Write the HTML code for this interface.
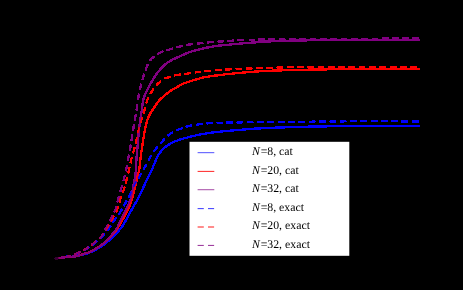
<!DOCTYPE html>
<html><head><meta charset="utf-8"><title>plot</title>
<style>
html,body{margin:0;padding:0;background:#000;}
body{width:463px;height:290px;overflow:hidden;}
svg{display:block;}
.t{font-family:"Liberation Serif",serif;font-size:11.8px;fill:#000;text-rendering:geometricPrecision;}
</style></head><body>
<svg width="463" height="290" viewBox="0 0 463 290">
<rect width="463" height="290" fill="#000"/>
<defs><filter id="th" x="0" y="0" width="463" height="290" filterUnits="userSpaceOnUse" color-interpolation-filters="sRGB"><feComponentTransfer><feFuncA type="discrete" tableValues="0 1 1 1 1 1 1 1 1 1 1 1 1 1 1 1"/></feComponentTransfer></filter></defs>
<g filter="url(#th)">
<path d="M55.0,258.7 L56.5,258.4 L57.9,258.2 L59.4,257.9 L60.9,257.7 L62.4,257.5 L63.9,257.4 L65.4,257.3 L66.9,257.2 L68.4,257.0 L69.9,256.9 L71.4,256.8 L72.9,256.6 L74.4,256.5 L75.8,256.3 L77.3,256.0 L78.8,255.6 L80.2,255.3 L81.7,254.9 L83.1,254.5 L84.6,254.1 L86.0,253.7 L87.5,253.3 L88.9,252.8 L90.3,252.3 L91.7,251.7 L93.0,251.0 L94.3,250.3 L95.7,249.6 L97.0,248.9 L98.3,248.2 L99.6,247.4 L100.8,246.6 L102.1,245.8 L103.4,245.0 L104.6,244.1 L105.8,243.2 L107.0,242.3 L108.1,241.3 L109.3,240.3 L110.4,239.3 L111.5,238.3 L112.6,237.3 L113.6,236.3 L114.7,235.2 L115.8,234.1 L116.8,233.0 L117.8,231.9 L118.8,230.8 L119.7,229.6 L120.6,228.4 L121.5,227.2 L122.4,226.0 L123.2,224.7 L124.0,223.5 L124.7,222.2 L125.5,220.9 L126.3,219.6 L127.0,218.3 L127.7,217.0 L128.4,215.6 L129.1,214.3 L129.8,213.0 L130.6,211.7 L131.3,210.4 L132.1,209.1 L132.8,207.8 L133.6,206.5 L134.3,205.2 L135.1,203.9 L135.8,202.6 L136.6,201.3 L137.3,200.0 L138.0,198.6 L138.7,197.3 L139.3,196.0 L140.0,194.6 L140.6,193.3 L141.3,191.9 L141.9,190.5 L142.5,189.2 L143.1,187.8 L143.7,186.4 L144.4,185.1 L145.0,183.7 L145.7,182.4 L146.4,181.0 L147.0,179.7 L147.7,178.4 L148.3,177.0 L149.0,175.7 L149.7,174.3 L150.4,173.0 L151.0,171.6 L151.7,170.3 L152.3,168.9 L152.8,167.5 L153.4,166.1 L153.9,164.7 L154.5,163.3 L155.0,161.9 L155.6,160.6 L156.3,159.2 L156.9,157.8 L157.6,156.5 L158.3,155.2 L159.1,153.9 L159.9,152.7 L160.8,151.5 L161.8,150.3 L162.8,149.2 L163.9,148.2 L165.0,147.2 L166.2,146.3 L167.4,145.5 L168.7,144.7 L170.0,143.9 L171.3,143.1 L172.6,142.4 L173.9,141.7 L175.3,141.2 L176.7,140.6 L178.1,140.1 L179.6,139.7 L181.0,139.2 L182.4,138.8 L183.9,138.4 L185.3,138.0 L186.8,137.6 L188.2,137.2 L189.7,136.8 L191.1,136.5 L192.6,136.2 L194.1,135.8 L195.5,135.5 L197.0,135.1 L198.4,134.8 L199.9,134.5 L201.4,134.2 L202.9,134.0 L204.3,133.7 L205.8,133.5 L207.3,133.2 L208.8,133.0 L210.3,132.8 L211.8,132.6 L213.3,132.4 L214.7,132.3 L216.2,132.1 L217.7,131.9 L219.2,131.8 L220.7,131.6 L222.2,131.5 L223.7,131.3 L225.2,131.2 L226.7,131.0 L228.2,130.9 L229.7,130.8 L231.2,130.6 L232.6,130.5 L234.1,130.3 L235.6,130.2 L237.1,130.1 L238.6,129.9 L240.1,129.8 L241.6,129.7 L243.1,129.5 L244.6,129.4 L246.1,129.3 L247.6,129.2 L249.1,129.0 L250.6,128.9 L252.1,128.8 L253.6,128.7 L255.1,128.6 L256.6,128.5 L258.1,128.4 L259.6,128.4 L261.1,128.3 L262.6,128.2 L264.1,128.1 L265.6,128.1 L267.0,128.0 L268.5,127.9 L270.0,127.9 L271.5,127.8 L273.0,127.7 L274.5,127.7 L276.0,127.6 L277.5,127.6 L279.0,127.5 L280.5,127.5 L282.0,127.4 L283.5,127.4 L285.0,127.3 L286.5,127.3 L288.0,127.2 L289.5,127.2 L291.0,127.1 L292.5,127.1 L294.0,127.0 L295.5,127.0 L297.0,126.9 L298.5,126.9 L300.0,126.9 L301.5,126.8 L303.0,126.8 L304.5,126.7 L306.0,126.7 L307.5,126.7 L309.0,126.6 L310.5,126.6 L312.0,126.6 L313.5,126.6 L315.0,126.5 L316.5,126.5 L318.0,126.5 L319.5,126.5 L321.0,126.4 L322.5,126.4 L324.0,126.4 L325.5,126.4 L327.0,126.3 L328.5,126.3 L330.0,126.3 L331.5,126.3 L333.0,126.3 L334.5,126.2 L336.0,126.2 L337.5,126.2 L339.0,126.2 L340.5,126.2 L342.0,126.2 L343.5,126.1 L345.0,126.1 L346.5,126.1 L348.0,126.1 L349.5,126.1 L351.0,126.1 L352.5,126.1 L354.0,126.1 L355.5,126.1 L357.0,126.1 L358.5,126.1 L360.0,126.1 L361.5,126.0 L363.0,126.0 L364.5,126.0 L366.0,126.0 L367.5,126.0 L369.0,126.0 L370.5,126.0 L372.0,126.0 L373.5,126.0 L375.0,126.0 L376.5,126.0 L378.0,126.0 L379.5,126.0 L381.0,126.0 L382.5,126.0 L384.0,126.0 L385.5,126.0 L387.0,126.0 L388.5,126.0 L390.0,126.0 L391.5,126.0 L393.0,126.0 L394.5,126.0 L396.0,126.0 L397.5,126.0 L399.0,126.0 L400.5,126.0 L402.0,126.0 L403.5,126.0 L405.0,126.0 L406.5,126.0 L408.0,126.0 L409.5,126.0 L411.0,126.0 L412.5,126.0 L414.0,126.0 L415.5,126.0 L417.0,126.0 L418.5,126.0 L420.0,126.0" fill="none" stroke="#0000ff" stroke-width="1.5" stroke-linejoin="round"/>
<path d="M55.0,258.7 L56.5,258.4 L57.9,258.2 L59.4,257.9 L60.9,257.7 L62.4,257.5 L63.9,257.4 L65.4,257.3 L66.9,257.2 L68.4,257.0 L69.9,256.9 L71.4,256.7 L72.8,256.6 L74.3,256.4 L75.8,256.2 L77.3,255.9 L78.7,255.5 L80.2,255.1 L81.6,254.7 L83.1,254.3 L84.5,253.9 L85.9,253.4 L87.4,253.0 L88.8,252.5 L90.2,251.9 L91.5,251.3 L92.8,250.6 L94.1,249.8 L95.4,249.1 L96.7,248.3 L98.0,247.5 L99.3,246.7 L100.5,245.9 L101.8,245.1 L103.0,244.2 L104.1,243.2 L105.3,242.3 L106.4,241.2 L107.5,240.2 L108.5,239.2 L109.6,238.1 L110.6,237.0 L111.6,235.9 L112.6,234.8 L113.6,233.6 L114.5,232.5 L115.4,231.3 L116.3,230.1 L117.2,228.9 L118.0,227.6 L118.8,226.3 L119.5,225.0 L120.3,223.7 L121.0,222.4 L121.7,221.1 L122.4,219.8 L123.2,218.5 L123.9,217.2 L124.7,215.9 L125.4,214.5 L126.1,213.2 L126.8,211.9 L127.4,210.5 L128.1,209.2 L128.7,207.8 L129.3,206.4 L129.8,205.1 L130.4,203.7 L130.9,202.3 L131.4,200.8 L131.8,199.4 L132.2,198.0 L132.6,196.5 L133.0,195.1 L133.4,193.6 L133.8,192.2 L134.2,190.7 L134.6,189.3 L134.9,187.8 L135.3,186.4 L135.6,184.9 L135.9,183.4 L136.2,182.0 L136.5,180.5 L136.9,179.0 L137.2,177.6 L137.5,176.1 L137.9,174.7 L138.3,173.2 L138.7,171.8 L139.0,170.3 L139.3,168.9 L139.5,167.4 L139.7,165.9 L139.8,164.4 L140.0,162.9 L140.1,161.4 L140.3,159.9 L140.5,158.4 L140.7,156.9 L140.9,155.5 L141.1,154.0 L141.3,152.5 L141.5,151.0 L141.8,149.5 L142.0,148.1 L142.2,146.6 L142.4,145.1 L142.6,143.6 L142.9,142.1 L143.1,140.6 L143.3,139.2 L143.5,137.7 L143.8,136.2 L144.0,134.7 L144.2,133.2 L144.5,131.8 L144.8,130.3 L145.1,128.8 L145.4,127.4 L145.8,125.9 L146.1,124.5 L146.5,123.0 L146.9,121.6 L147.4,120.1 L147.9,118.7 L148.4,117.3 L149.0,115.9 L149.6,114.6 L150.3,113.3 L151.1,112.0 L152.0,110.8 L152.8,109.5 L153.6,108.2 L154.4,107.0 L155.2,105.7 L156.0,104.5 L156.9,103.2 L157.8,102.0 L158.8,100.9 L159.8,99.8 L160.8,98.7 L161.9,97.7 L163.0,96.7 L164.1,95.7 L165.3,94.7 L166.4,93.8 L167.6,92.8 L168.8,92.0 L170.1,91.1 L171.3,90.3 L172.6,89.5 L173.9,88.8 L175.2,88.0 L176.5,87.3 L177.9,86.6 L179.2,85.9 L180.5,85.2 L181.8,84.4 L183.1,83.8 L184.5,83.1 L185.9,82.6 L187.3,82.1 L188.7,81.6 L190.1,81.2 L191.6,80.8 L193.0,80.4 L194.5,80.0 L195.9,79.5 L197.4,79.1 L198.8,78.7 L200.2,78.3 L201.7,77.9 L203.1,77.6 L204.6,77.2 L206.1,76.9 L207.5,76.7 L209.0,76.4 L210.5,76.2 L212.0,76.0 L213.5,75.8 L215.0,75.6 L216.4,75.4 L217.9,75.2 L219.4,75.0 L220.9,74.9 L222.4,74.7 L223.9,74.5 L225.4,74.3 L226.9,74.2 L228.3,74.0 L229.8,73.8 L231.3,73.7 L232.8,73.5 L234.3,73.4 L235.8,73.2 L237.3,73.1 L238.8,72.9 L240.3,72.8 L241.8,72.7 L243.3,72.5 L244.8,72.4 L246.2,72.3 L247.7,72.2 L249.2,72.0 L250.7,71.9 L252.2,71.8 L253.7,71.7 L255.2,71.6 L256.7,71.5 L258.2,71.4 L259.7,71.3 L261.2,71.2 L262.7,71.2 L264.2,71.1 L265.7,71.0 L267.2,70.9 L268.7,70.8 L270.2,70.8 L271.7,70.7 L273.2,70.6 L274.7,70.6 L276.2,70.5 L277.7,70.5 L279.2,70.4 L280.7,70.4 L282.2,70.3 L283.7,70.3 L285.1,70.2 L286.6,70.2 L288.1,70.1 L289.6,70.1 L291.1,70.1 L292.6,70.0 L294.1,70.0 L295.6,69.9 L297.1,69.9 L298.6,69.9 L300.1,69.8 L301.6,69.8 L303.1,69.7 L304.6,69.7 L306.1,69.7 L307.6,69.7 L309.1,69.6 L310.6,69.6 L312.1,69.6 L313.6,69.5 L315.1,69.5 L316.6,69.5 L318.1,69.5 L319.6,69.4 L321.1,69.4 L322.6,69.4 L324.1,69.4 L325.6,69.4 L327.1,69.3 L328.6,69.3 L330.1,69.3 L331.6,69.3 L333.1,69.3 L334.6,69.2 L336.1,69.2 L337.6,69.2 L339.1,69.2 L340.6,69.2 L342.1,69.2 L343.6,69.1 L345.1,69.1 L346.6,69.1 L348.1,69.1 L349.6,69.1 L351.1,69.1 L352.6,69.1 L354.1,69.1 L355.6,69.1 L357.1,69.1 L358.6,69.1 L360.1,69.1 L361.6,69.0 L363.1,69.0 L364.6,69.0 L366.1,69.0 L367.6,69.0 L369.1,69.0 L370.6,69.0 L372.0,69.0 L373.5,69.0 L375.0,69.0 L376.5,69.0 L378.0,69.0 L379.5,69.0 L381.0,69.0 L382.5,69.0 L384.0,69.0 L385.5,69.0 L387.0,69.0 L388.5,69.0 L390.0,69.0 L391.5,69.0 L393.0,69.0 L394.5,69.0 L396.0,69.0 L397.5,69.0 L399.0,69.0 L400.5,69.0 L402.0,69.0 L403.5,69.0 L405.0,69.0 L406.5,69.0 L408.0,69.0 L409.5,69.0 L411.0,69.0 L412.5,69.0 L414.0,69.0 L415.5,69.0 L417.0,69.0 L418.5,69.0 L420.0,69.0" fill="none" stroke="#ff0000" stroke-width="1.5" stroke-linejoin="round"/>
<path d="M55.0,258.7 L56.5,258.4 L57.9,258.2 L59.4,257.9 L60.9,257.7 L62.4,257.5 L63.9,257.4 L65.4,257.3 L66.9,257.2 L68.4,257.0 L69.9,256.9 L71.4,256.7 L72.9,256.6 L74.3,256.4 L75.8,256.2 L77.3,255.9 L78.7,255.5 L80.2,255.0 L81.6,254.6 L83.1,254.2 L84.5,253.8 L85.9,253.3 L87.4,252.9 L88.8,252.4 L90.2,251.8 L91.5,251.2 L92.8,250.5 L94.1,249.7 L95.4,248.9 L96.7,248.1 L98.0,247.3 L99.2,246.5 L100.4,245.7 L101.7,244.8 L102.8,243.9 L104.0,242.9 L105.1,241.9 L106.2,240.9 L107.2,239.8 L108.3,238.7 L109.3,237.6 L110.3,236.5 L111.3,235.4 L112.3,234.3 L113.3,233.1 L114.3,232.0 L115.2,230.8 L116.0,229.6 L116.8,228.3 L117.5,227.0 L118.2,225.6 L118.8,224.3 L119.5,222.9 L120.1,221.5 L120.8,220.2 L121.4,218.9 L122.1,217.5 L122.8,216.2 L123.5,214.9 L124.2,213.5 L124.8,212.2 L125.5,210.8 L126.1,209.5 L126.8,208.1 L127.4,206.8 L128.0,205.4 L128.6,204.0 L129.2,202.6 L129.8,201.3 L130.4,199.9 L130.9,198.5 L131.2,197.0 L131.6,195.5 L131.9,194.1 L132.1,192.6 L132.4,191.1 L132.7,189.7 L132.9,188.2 L133.2,186.7 L133.5,185.2 L133.8,183.8 L134.1,182.3 L134.4,180.8 L134.7,179.4 L135.0,177.9 L135.2,176.4 L135.4,174.9 L135.5,173.4 L135.7,171.9 L135.8,170.4 L135.9,168.9 L136.0,167.4 L136.1,165.9 L136.2,164.4 L136.3,162.9 L136.3,161.4 L136.4,159.9 L136.5,158.5 L136.6,157.0 L136.7,155.5 L136.8,154.0 L137.0,152.5 L137.1,151.0 L137.3,149.5 L137.4,148.0 L137.6,146.5 L137.7,145.0 L137.8,143.5 L137.9,142.0 L138.0,140.5 L138.1,139.0 L138.3,137.5 L138.4,136.0 L138.5,134.5 L138.7,133.1 L138.8,131.6 L139.0,130.1 L139.2,128.6 L139.3,127.1 L139.5,125.6 L139.7,124.1 L139.9,122.6 L140.1,121.1 L140.3,119.7 L140.5,118.2 L140.8,116.7 L141.0,115.2 L141.2,113.7 L141.5,112.2 L141.7,110.8 L141.9,109.3 L142.1,107.8 L142.3,106.3 L142.5,104.8 L142.7,103.3 L142.9,101.9 L143.2,100.4 L143.5,98.9 L143.9,97.5 L144.4,96.1 L145.0,94.7 L145.7,93.3 L146.3,92.0 L147.0,90.6 L147.6,89.3 L148.2,87.9 L148.9,86.6 L149.6,85.2 L150.3,83.9 L151.1,82.6 L151.8,81.4 L152.6,80.1 L153.4,78.8 L154.2,77.5 L155.0,76.3 L155.8,75.0 L156.7,73.8 L157.6,72.6 L158.5,71.4 L159.5,70.3 L160.5,69.1 L161.5,68.0 L162.5,67.0 L163.6,65.9 L164.7,64.9 L165.9,63.9 L167.1,63.0 L168.3,62.2 L169.6,61.4 L170.9,60.6 L172.2,59.9 L173.5,59.2 L174.8,58.5 L176.2,57.9 L177.6,57.3 L178.9,56.6 L180.3,56.0 L181.7,55.4 L183.0,54.8 L184.4,54.2 L185.8,53.6 L187.2,53.0 L188.6,52.5 L190.0,52.0 L191.4,51.6 L192.9,51.1 L194.3,50.7 L195.7,50.3 L197.2,49.9 L198.6,49.5 L200.1,49.2 L201.5,48.8 L203.0,48.4 L204.5,48.1 L205.9,47.8 L207.4,47.5 L208.9,47.2 L210.4,47.0 L211.8,46.8 L213.3,46.5 L214.8,46.3 L216.3,46.1 L217.8,45.8 L219.3,45.6 L220.7,45.4 L222.2,45.3 L223.7,45.1 L225.2,45.0 L226.7,44.8 L228.2,44.7 L229.7,44.5 L231.2,44.4 L232.7,44.2 L234.2,44.1 L235.7,43.9 L237.2,43.8 L238.6,43.7 L240.1,43.5 L241.6,43.4 L243.1,43.3 L244.6,43.2 L246.1,43.1 L247.6,42.9 L249.1,42.8 L250.6,42.7 L252.1,42.6 L253.6,42.5 L255.1,42.4 L256.6,42.3 L258.1,42.2 L259.6,42.0 L261.1,41.9 L262.6,41.8 L264.1,41.7 L265.6,41.6 L267.1,41.5 L268.6,41.5 L270.1,41.4 L271.6,41.3 L273.1,41.3 L274.6,41.2 L276.1,41.2 L277.5,41.1 L279.0,41.1 L280.5,41.0 L282.0,41.0 L283.5,40.9 L285.0,40.9 L286.5,40.8 L288.0,40.8 L289.5,40.7 L291.0,40.7 L292.5,40.7 L294.0,40.6 L295.5,40.6 L297.0,40.6 L298.5,40.5 L300.0,40.5 L301.5,40.5 L303.0,40.4 L304.5,40.4 L306.0,40.4 L307.5,40.3 L309.0,40.3 L310.5,40.3 L312.0,40.3 L313.5,40.2 L315.0,40.2 L316.5,40.2 L318.0,40.2 L319.5,40.1 L321.0,40.1 L322.5,40.1 L324.0,40.1 L325.5,40.1 L327.0,40.1 L328.5,40.1 L330.0,40.1 L331.5,40.1 L333.0,40.1 L334.5,40.1 L336.0,40.1 L337.5,40.0 L339.0,40.0 L340.5,40.0 L342.0,40.0 L343.5,40.0 L345.0,40.0 L346.5,40.0 L348.0,40.0 L349.5,40.0 L351.0,40.0 L352.5,40.0 L354.0,40.0 L355.5,40.0 L357.0,40.0 L358.5,40.0 L360.0,40.0 L361.5,40.0 L363.0,40.0 L364.5,40.0 L366.0,40.0 L367.5,40.0 L369.0,40.0 L370.5,40.0 L372.0,40.0 L373.5,40.0 L375.0,40.0 L376.5,40.0 L378.0,40.0 L379.5,40.0 L381.0,40.0 L382.5,40.0 L384.0,40.0 L385.5,40.0 L387.0,40.0 L388.5,40.0 L390.0,40.0 L391.5,40.0 L393.0,40.0 L394.5,40.0 L396.0,40.0 L397.5,40.0 L399.0,40.0 L400.5,40.0 L402.0,40.0 L403.5,40.0 L405.0,40.0 L406.5,40.0 L408.0,40.0 L409.5,40.0 L411.0,40.0 L412.5,40.0 L414.0,40.0 L415.5,40.0 L417.0,40.0 L418.5,40.0 L420.0,40.0" fill="none" stroke="#800080" stroke-width="1.5" stroke-linejoin="round"/>
<path d="M55.0,258.7 L56.5,258.4 L58.0,258.2 L59.4,257.9 L60.9,257.7 M65.0,257.0 L66.2,256.8 L67.4,256.6 L68.5,256.3 L69.7,256.0 L70.9,255.7 M74.8,254.3 L76.2,253.8 L77.5,253.2 L78.9,252.7 L80.3,252.1 M84.0,250.3 L85.4,249.6 L86.7,248.8 L87.9,248.0 L89.2,247.2 M92.6,244.8 L93.8,243.9 L94.9,243.0 L96.1,242.0 L97.3,241.1 M100.4,238.4 L101.5,237.3 L102.5,236.3 L103.5,235.2 L104.5,234.0 M107.2,230.8 L108.1,229.6 L109.0,228.4 L109.9,227.2 L110.7,226.0 M113.0,222.5 L113.8,221.3 L114.6,220.0 L115.5,218.8 L116.4,217.6 M118.8,214.2 L119.7,213.0 L120.5,211.7 L121.3,210.5 L122.0,209.2 M123.8,206.0 L124.5,204.7 L125.3,203.4 L126.0,202.1 L126.7,200.7 M128.7,197.1 L129.4,195.8 L130.0,194.4 L130.7,193.1 L131.3,191.7 M133.6,186.7 L134.3,185.3 L135.0,184.0 L135.7,182.7 L136.4,181.4 M138.2,178.4 L139.0,177.1 L139.7,175.8 L140.5,174.6 L141.3,173.3 M143.5,169.5 L144.3,168.2 L145.0,166.9 L145.8,165.6 L146.5,164.2 M148.5,160.3 L149.3,159.0 L150.0,157.7 L150.8,156.4 L151.6,155.2 M153.9,151.4 L154.8,150.2 L155.7,149.0 L156.6,147.8 L157.6,146.7 M160.6,143.5 L161.6,142.3 L162.6,141.2 L163.5,140.0 L164.4,138.8 M167.7,135.8 L168.8,134.9 L170.0,134.0 L171.3,133.2 L172.6,132.4 M176.7,130.3 L178.1,129.7 L179.5,129.1 L180.9,128.6 L182.3,128.1 M185.8,126.8 L187.3,126.4 L188.7,126.1 L190.2,125.8 L191.7,125.5 M196.7,124.7 L198.2,124.5 L199.7,124.3 L201.2,124.1 L202.7,123.9 M206.7,123.5 L208.1,123.3 L209.6,123.2 L211.1,123.1 L212.6,123.0 M216.9,122.8 L218.4,122.8 L219.9,122.7 L221.4,122.7 L222.9,122.7 M226.4,122.6 L227.9,122.6 L229.4,122.6 L230.9,122.5 L232.4,122.5 M236.8,122.4 L238.3,122.4 L239.8,122.4 L241.3,122.4 L242.8,122.3 M247.1,122.3 L248.6,122.3 L250.1,122.2 L251.6,122.2 L253.1,122.2 M257.4,122.1 L258.9,122.1 L260.4,122.1 L261.9,122.1 L263.4,122.1 M267.8,122.0 L269.3,122.0 L270.8,122.0 L272.3,122.0 L273.8,122.0 M278.1,121.9 L279.6,121.9 L281.1,121.9 L282.6,121.9 L284.1,121.9 M288.4,121.8 L289.9,121.8 L291.4,121.8 L292.9,121.8 L294.4,121.8 M298.8,121.8 L300.3,121.8 L301.8,121.7 L303.3,121.7 L304.8,121.7 M309.1,121.7 L310.6,121.7 L312.1,121.7 L313.6,121.6 L315.1,121.6 M319.4,121.6 L320.9,121.6 L322.4,121.6 L323.9,121.5 L325.4,121.5 M329.8,121.5 L331.3,121.5 L332.8,121.5 L334.3,121.4 L335.8,121.4 M340.1,121.4 L341.6,121.4 L343.1,121.4 L344.6,121.3 L346.1,121.3 M350.4,121.3 L351.9,121.3 L353.4,121.3 L354.9,121.3 L356.4,121.2 M360.8,121.2 L362.3,121.2 L363.8,121.2 L365.3,121.1 L366.8,121.1 M371.1,121.1 L372.6,121.1 L374.1,121.1 L375.6,121.1 L377.1,121.1 M381.4,121.1 L382.9,121.1 L384.4,121.1 L385.9,121.1 L387.4,121.1 M391.5,121.2 L393.0,121.2 L394.5,121.2 L396.0,121.2 L397.5,121.2 M401.6,121.4 L403.1,121.4 L404.6,121.4 L406.1,121.4 L407.6,121.4 M412.5,121.5 L414.0,121.5 L415.5,121.5 L417.0,121.5 L418.5,121.5" fill="none" stroke="#0000ff" stroke-width="1.5" stroke-linejoin="round"/>
<path d="M55.0,258.7 L56.5,258.4 L58.0,258.2 L59.4,257.9 L60.9,257.7 M65.0,256.9 L66.2,256.7 L67.3,256.5 L68.5,256.2 L69.7,255.9 L70.8,255.6 M74.7,254.2 L76.1,253.7 L77.5,253.1 L78.9,252.6 L80.3,252.0 M83.5,250.4 L84.8,249.7 L86.1,248.9 L87.4,248.1 L88.6,247.3 M91.6,245.0 L92.7,244.1 L93.9,243.2 L95.1,242.2 L96.2,241.3 M99.5,238.4 L100.6,237.3 L101.6,236.2 L102.6,235.1 L103.5,233.9 M105.9,230.2 L106.7,228.9 L107.5,227.6 L108.2,226.3 L109.0,225.0 M111.2,221.2 L111.9,219.9 L112.6,218.6 L113.3,217.2 L114.0,215.9 M116.0,212.0 L116.6,210.6 L117.2,209.3 L117.8,207.9 L118.2,206.4 M119.5,202.1 L119.9,200.6 L120.3,199.2 L120.8,197.8 L121.3,196.4 M122.8,192.4 L123.4,191.0 L123.8,189.6 L124.3,188.1 L124.7,186.7 M125.7,183.1 L126.1,181.6 L126.5,180.2 L126.9,178.7 L127.2,177.3 M128.2,173.1 L128.5,171.9 L128.8,170.7 L129.1,169.6 L129.3,168.4 L129.6,167.2 M130.5,163.0 L130.8,161.5 L131.2,160.1 L131.5,158.6 L131.9,157.2 M133.1,153.0 L133.5,151.6 L133.9,150.1 L134.3,148.7 L134.6,147.2 M135.7,143.1 L136.0,141.6 L136.4,140.1 L136.7,138.7 L137.0,137.2 M137.9,133.0 L138.2,131.5 L138.6,130.1 L138.9,128.6 L139.3,127.2 M140.5,123.0 L140.9,121.6 L141.3,120.1 L141.8,118.7 L142.2,117.3 M143.5,113.2 L143.9,111.7 L144.4,110.3 L144.8,108.8 L145.1,107.4 M146.3,103.2 L146.7,101.8 L147.2,100.4 L147.8,99.0 L148.4,97.6 M150.4,93.8 L151.1,92.5 L151.9,91.2 L152.7,90.0 L153.6,88.8 M156.3,85.4 L157.3,84.3 L158.4,83.2 L159.5,82.3 L160.7,81.3 M164.6,78.5 L166.0,78.0 L167.5,77.7 L169.0,77.3 L170.4,76.9 M174.6,75.4 L176.1,75.1 L177.6,74.9 L179.1,74.7 L180.6,74.5 M184.6,73.9 L186.1,73.7 L187.6,73.5 L189.1,73.2 L190.6,73.0 M195.0,72.4 L196.5,72.2 L198.0,72.1 L199.5,71.9 L201.0,71.7 M204.9,71.2 L206.3,71.1 L207.8,70.9 L209.3,70.8 L210.8,70.7 M215.2,70.3 L216.7,70.2 L218.2,70.1 L219.7,69.9 L221.2,69.8 M225.6,69.5 L227.1,69.5 L228.6,69.4 L230.1,69.3 L231.6,69.2 M235.9,69.0 L237.4,68.9 L238.9,68.9 L240.4,68.8 L241.9,68.7 M246.1,68.5 L247.6,68.5 L249.1,68.4 L250.6,68.4 L252.1,68.3 M256.4,68.2 L257.9,68.1 L259.4,68.1 L260.9,68.0 L262.4,68.0 M266.7,67.9 L268.2,67.9 L269.7,67.9 L271.2,67.8 L272.7,67.8 M276.9,67.6 L278.4,67.5 L279.9,67.4 L281.4,67.4 L282.9,67.3 M287.2,67.2 L288.7,67.2 L290.2,67.2 L291.7,67.2 L293.2,67.2 M297.4,67.1 L298.9,67.1 L300.4,67.1 L301.9,67.1 L303.4,67.1 M307.7,67.1 L309.2,67.1 L310.7,67.1 L312.2,67.1 L313.7,67.0 M318.0,67.0 L319.5,67.0 L321.0,67.0 L322.5,67.0 L324.0,67.0 M328.2,67.0 L329.7,67.0 L331.2,67.0 L332.7,67.0 L334.2,67.0 M338.5,67.0 L340.0,67.0 L341.5,67.0 L343.0,67.0 L344.5,67.0 M348.8,67.0 L350.3,67.0 L351.8,67.0 L353.3,67.0 L354.8,67.0 M359.0,67.0 L360.5,67.0 L362.0,67.0 L363.5,67.0 L365.0,67.0 M369.3,67.0 L370.8,67.0 L372.3,67.0 L373.8,67.0 L375.3,67.0 M379.5,67.0 L381.0,67.0 L382.5,67.0 L384.0,67.0 L385.5,67.0 M390.5,67.0 L392.0,67.0 L393.5,67.0 L395.0,67.0 L396.5,67.0 M400.6,67.0 L402.1,67.0 L403.6,67.0 L405.1,67.0 L406.6,67.0 M410.7,67.0 L412.2,67.0 L413.7,67.0 L415.2,67.0 L416.7,67.0" fill="none" stroke="#ff0000" stroke-width="1.5" stroke-linejoin="round"/>
<path d="M55.0,258.7 L56.5,258.4 L58.0,258.2 L59.4,257.9 L60.9,257.7 M65.0,256.9 L66.5,256.7 L67.9,256.4 L69.4,256.0 L70.8,255.6 M74.7,254.2 L76.1,253.7 L77.5,253.1 L78.9,252.5 L80.3,251.9 M83.5,250.3 L84.8,249.6 L86.1,248.8 L87.4,248.0 L88.6,247.1 M91.6,244.9 L92.7,243.9 L93.9,243.0 L95.0,242.0 L96.2,241.1 M99.3,238.3 L100.4,237.3 L101.4,236.2 L102.3,235.0 L103.1,233.7 M105.0,230.0 L105.7,228.7 L106.4,227.4 L107.1,226.0 L107.9,224.7 M109.8,221.1 L110.5,219.7 L111.2,218.4 L111.9,217.1 L112.5,215.7 M114.3,212.0 L114.9,210.6 L115.5,209.2 L116.0,207.8 L116.4,206.3 M117.4,202.1 L117.7,200.6 L118.1,199.2 L118.5,197.7 L118.9,196.3 M120.3,191.4 L120.8,189.9 L121.2,188.5 L121.6,187.1 L122.0,185.6 M123.4,181.0 L123.8,179.5 L124.2,178.1 L124.5,176.6 L124.9,175.2 M125.9,171.0 L126.2,169.5 L126.5,168.0 L126.8,166.6 L127.1,165.1 M127.8,160.9 L128.1,159.4 L128.3,157.9 L128.6,156.4 L128.9,155.0 M129.7,150.8 L130.0,149.3 L130.3,147.8 L130.5,146.3 L130.8,144.8 M131.5,140.6 L131.7,139.1 L132.0,137.6 L132.2,136.2 L132.4,134.7 M133.0,130.4 L133.3,128.9 L133.5,127.5 L133.8,126.0 L134.0,124.5 M134.8,120.3 L135.0,118.8 L135.3,117.3 L135.5,115.8 L135.8,114.4 M136.5,110.1 L136.7,108.6 L136.9,107.2 L137.1,105.7 L137.3,104.2 M137.9,99.9 L138.2,98.4 L138.4,97.0 L138.7,95.5 L139.0,94.0 M139.8,89.8 L140.2,88.3 L140.5,86.9 L140.9,85.4 L141.3,84.0 M142.5,79.9 L142.9,78.4 L143.2,77.0 L143.6,75.5 L144.1,74.1 M145.7,70.1 L146.1,68.7 L146.6,67.2 L147.1,65.8 L147.7,64.5 M149.8,60.7 L150.7,59.6 L151.8,58.5 L153.0,57.6 L154.2,56.6 M157.7,54.2 L159.0,53.4 L160.3,52.6 L161.6,52.0 L163.0,51.4 M166.8,50.2 L168.3,49.8 L169.7,49.4 L171.2,49.0 L172.6,48.5 M176.7,47.3 L178.2,46.9 L179.6,46.5 L181.1,46.2 L182.6,45.9 M186.7,45.0 L188.2,44.8 L189.7,44.5 L191.2,44.3 L192.7,44.1 M197.1,43.6 L198.6,43.4 L200.1,43.3 L201.6,43.1 L203.1,42.9 M207.4,42.4 L208.9,42.3 L210.4,42.2 L211.9,42.1 L213.4,42.0 M217.9,41.7 L219.4,41.6 L220.8,41.5 L222.3,41.4 L223.8,41.3 M227.5,41.1 L229.0,41.0 L230.5,40.9 L232.0,40.7 L233.5,40.6 M237.7,40.2 L239.2,40.1 L240.7,40.1 L242.2,40.0 L243.7,40.0 M249.0,40.0 L250.5,39.9 L252.0,39.9 L253.5,39.9 L255.0,39.8 M258.4,39.6 L259.9,39.6 L261.4,39.5 L262.9,39.5 L264.4,39.4 M268.8,39.3 L270.3,39.3 L271.8,39.3 L273.3,39.3 L274.8,39.3 M279.1,39.2 L280.6,39.2 L282.1,39.2 L283.6,39.2 L285.1,39.2 M289.4,39.2 L290.9,39.2 L292.4,39.2 L293.9,39.2 L295.4,39.2 M299.8,39.2 L301.3,39.2 L302.8,39.2 L304.3,39.2 L305.8,39.2 M310.1,39.2 L311.6,39.2 L313.1,39.2 L314.6,39.2 L316.1,39.2 M320.4,39.2 L321.9,39.2 L323.4,39.2 L324.9,39.2 L326.4,39.2 M330.8,39.2 L332.3,39.2 L333.8,39.2 L335.3,39.2 L336.8,39.2 M341.1,39.2 L342.6,39.2 L344.1,39.2 L345.6,39.2 L347.1,39.2 M351.4,39.2 L352.9,39.2 L354.4,39.2 L355.9,39.2 L357.4,39.2 M361.8,39.2 L363.3,39.2 L364.8,39.2 L366.3,39.2 L367.8,39.2 M372.1,39.2 L373.6,39.2 L375.1,39.2 L376.6,39.2 L378.1,39.2 M382.3,38.5 L383.8,38.4 L385.3,38.4 L386.8,38.4 L388.3,38.4 M392.7,38.4 L394.2,38.4 L395.7,38.4 L397.2,38.4 L398.7,38.4 M402.5,38.4 L404.0,38.4 L405.5,38.4 L407.0,38.4 L408.5,38.4 M412.5,38.4 L414.0,38.4 L415.5,38.4 L417.0,38.4 L418.5,38.4" fill="none" stroke="#800080" stroke-width="1.5" stroke-linejoin="round"/>
</g>
<rect x="53" y="254" width="5.4" height="8" fill="#000" fill-opacity="0.6"/>
<rect x="189.5" y="141.8" width="159.8" height="114.0" fill="#fff"/>
<rect x="197.6" y="152" width="16.7" height="1" fill="#0000ff" fill-opacity="0.57"/>
<rect x="197.6" y="153" width="16.7" height="1" fill="#0000ff" fill-opacity="0.12"/>
<rect x="197.6" y="171" width="16.7" height="1" fill="#ff0000" fill-opacity="0.76"/>
<rect x="197.6" y="170" width="16.7" height="1" fill="#ff0000" fill-opacity="0.1"/>
<rect x="197.6" y="189" width="16.7" height="1" fill="#800080" fill-opacity="0.56"/>
<rect x="197.6" y="190" width="16.7" height="1" fill="#800080" fill-opacity="0.15"/>
<rect x="197.6" y="208" width="6.2" height="1" fill="#0000ff" fill-opacity="0.69"/>
<rect x="208" y="208" width="6.1" height="1" fill="#0000ff" fill-opacity="0.69"/>
<rect x="197.6" y="209" width="6.2" height="1" fill="#0000ff" fill-opacity="0.1"/>
<rect x="208" y="209" width="6.1" height="1" fill="#0000ff" fill-opacity="0.1"/>
<rect x="197.6" y="226" width="6.2" height="1" fill="#ff0000" fill-opacity="0.45"/>
<rect x="208" y="226" width="6.1" height="1" fill="#ff0000" fill-opacity="0.45"/>
<rect x="197.6" y="227" width="6.2" height="1" fill="#ff0000" fill-opacity="0.45"/>
<rect x="208" y="227" width="6.1" height="1" fill="#ff0000" fill-opacity="0.45"/>
<rect x="197.6" y="245" width="6.2" height="1" fill="#800080" fill-opacity="0.75"/>
<rect x="208" y="245" width="6.1" height="1" fill="#800080" fill-opacity="0.75"/>
<rect x="197.6" y="244" width="6.2" height="1" fill="#800080" fill-opacity="0.08"/>
<rect x="208" y="244" width="6.1" height="1" fill="#800080" fill-opacity="0.08"/>
<g style="filter:grayscale(1)">
<text x="252" y="155.4" class="t"><tspan font-style="italic">N</tspan><tspan dx="0.8">=8, cat</tspan></text>
<text x="252" y="173.9" class="t"><tspan font-style="italic">N</tspan><tspan dx="0.8">=20, cat</tspan></text>
<text x="252" y="192.4" class="t"><tspan font-style="italic">N</tspan><tspan dx="0.8">=32, cat</tspan></text>
<text x="252" y="210.9" class="t"><tspan font-style="italic">N</tspan><tspan dx="0.8">=8, exact</tspan></text>
<text x="252" y="229.4" class="t"><tspan font-style="italic">N</tspan><tspan dx="0.8">=20, exact</tspan></text>
<text x="252" y="247.9" class="t"><tspan font-style="italic">N</tspan><tspan dx="0.8">=32, exact</tspan></text>
</g>
</svg>
</body></html>
